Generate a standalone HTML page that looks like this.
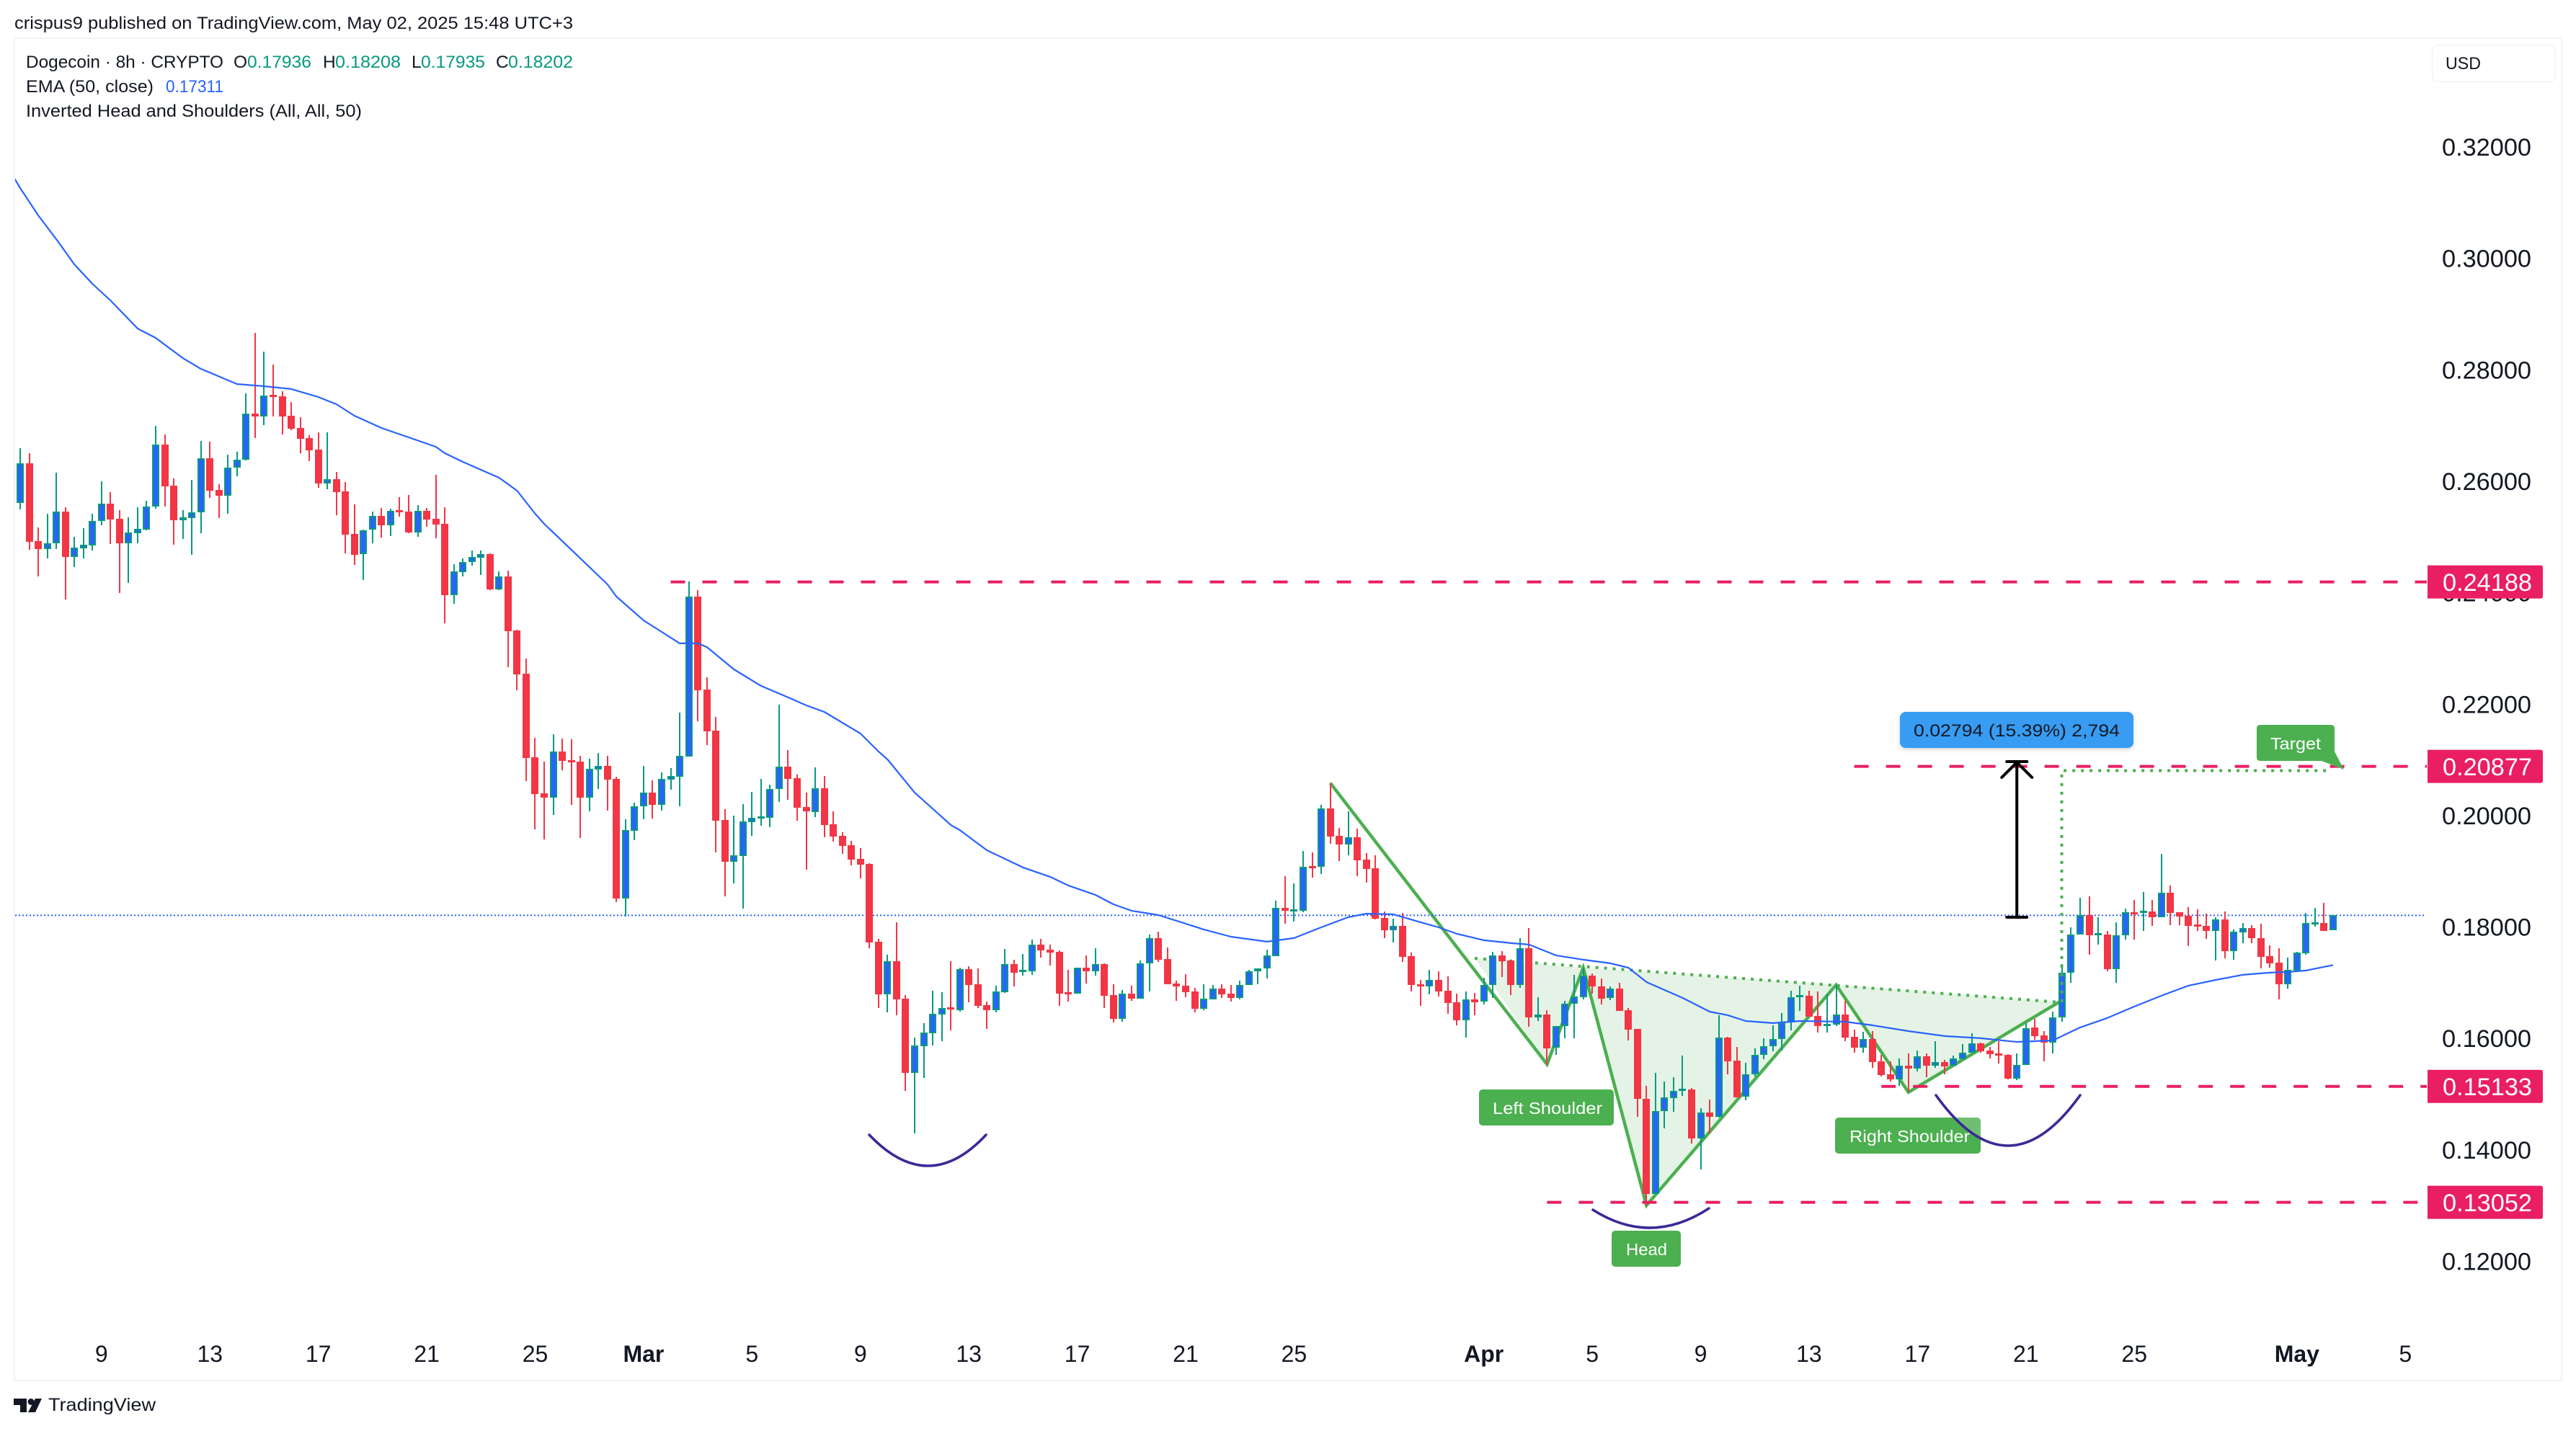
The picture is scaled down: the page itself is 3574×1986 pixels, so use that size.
<!DOCTYPE html>
<html lang="en">
<head>
<meta charset="utf-8">
<title>Dogecoin 8h chart</title>
<style>
html,body{margin:0;padding:0;background:#fff;width:3574px;height:1986px;overflow:hidden}
svg{display:block;font-family:"Liberation Sans",sans-serif}
text{fill:#131722}
</style>
</head>
<body>
<svg id="chart" xmlns="http://www.w3.org/2000/svg" width="3574" height="1986" viewBox="0 0 3574 1986">
<defs><clipPath id="paneClip"><rect x="21" y="54" width="3532" height="1861"/></clipPath></defs>
<rect x="0" y="0" width="3574" height="1986" fill="#ffffff"/>
<text x="20" y="40" font-size="24" textLength="775" lengthAdjust="spacingAndGlyphs">crispus9 published on TradingView.com, May 02, 2025 15:48 UTC+3</text>
<rect x="20" y="53" width="3534" height="1863" fill="none" stroke="#f2f3f5" stroke-width="2"/>

<g id="fills" clip-path="url(#paneClip)"></g>
<g id="lines" clip-path="url(#paneClip)"></g>
<g id="candles" shape-rendering="crispEdges"></g>
<g id="overlay" clip-path="url(#paneClip)"></g>

<g>
<path d="M1206 1575 Q1288 1661 1368 1575" fill="none" stroke="#3b2a96" stroke-width="3.6" stroke-linecap="round"/>
<path d="M2210 1679 Q2290 1730 2371 1677" fill="none" stroke="#3b2a96" stroke-width="3.6" stroke-linecap="round"/>
</g>

<g>
<rect x="2052" y="1512" width="187" height="50" rx="5" fill="#4caf50"/>
<text x="2071" y="1546" font-size="23" textLength="152" lengthAdjust="spacingAndGlyphs" style="fill:#fff">Left Shoulder</text>
<rect x="2546" y="1551" width="202" height="50" rx="5" fill="#4caf50"/>
<text x="2566" y="1585" font-size="23" textLength="167" lengthAdjust="spacingAndGlyphs" style="fill:#fff">Right Shoulder</text>
<rect x="2236" y="1708" width="96" height="50" rx="5" fill="#4caf50"/>
<text x="2256" y="1742" font-size="23" textLength="57" lengthAdjust="spacingAndGlyphs" style="fill:#fff">Head</text>
<path d="M3136 1006 H3234 Q3239 1006 3239 1011 V1043 L3252 1068 L3221 1056 H3136 Q3131 1056 3131 1051 V1011 Q3131 1006 3136 1006 Z" fill="#4caf50"/>
<text x="3150" y="1040" font-size="23" textLength="70" lengthAdjust="spacingAndGlyphs" style="fill:#fff">Target</text>
<path d="M2686 1520 Q2786 1660 2886 1520 Z" fill="rgba(255,255,255,0.2)"/>
<path d="M2686 1520 Q2786 1660 2886 1520" fill="none" stroke="#3b2a96" stroke-width="3.6" stroke-linecap="round"/>
</g>

<g>
<rect x="2636" y="988" width="324" height="50" rx="8" fill="#379cf2" style="filter:drop-shadow(0 2px 3px rgba(0,0,0,.18))"/>
<text x="2655" y="1022" font-size="24" textLength="286" lengthAdjust="spacingAndGlyphs">0.02794 (15.39%) 2,794</text>
</g>

<g id="axisY"></g>
<g id="axisX"></g>

<g>
<text x="36" y="94" font-size="24.5" textLength="274" lengthAdjust="spacingAndGlyphs">Dogecoin · 8h · CRYPTO</text>
<text x="324" y="94" font-size="24.5">O</text>
<text x="343" y="94" font-size="24.5" textLength="89" lengthAdjust="spacingAndGlyphs" style="fill:#089981">0.17936</text>
<text x="448" y="94" font-size="24.5">H</text>
<text x="465" y="94" font-size="24.5" textLength="91" lengthAdjust="spacingAndGlyphs" style="fill:#089981">0.18208</text>
<text x="571" y="94" font-size="24.5">L</text>
<text x="584" y="94" font-size="24.5" textLength="89" lengthAdjust="spacingAndGlyphs" style="fill:#089981">0.17935</text>
<text x="688" y="94" font-size="24.5">C</text>
<text x="705" y="94" font-size="24.5" textLength="90" lengthAdjust="spacingAndGlyphs" style="fill:#089981">0.18202</text>
<text x="36" y="128" font-size="24.5" textLength="177" lengthAdjust="spacingAndGlyphs">EMA (50, close)</text>
<text x="230" y="128" font-size="24.5" textLength="80" lengthAdjust="spacingAndGlyphs" style="fill:#2962ff">0.17311</text>
<text x="36" y="162" font-size="24.5" textLength="466" lengthAdjust="spacingAndGlyphs">Inverted Head and Shoulders (All, All, 50)</text>
</g>

<rect x="3374.5" y="62.5" width="171" height="51" rx="8" fill="#fff" stroke="#f2f3f5" stroke-width="1.5"/>
<text x="3393" y="96" font-size="24" textLength="49" lengthAdjust="spacingAndGlyphs">USD</text>

<g>
<path d="M19 1941 H37 V1960 H28 V1950 H19 Z" fill="#131722"/>
<circle cx="43" cy="1945.5" r="4.5" fill="#131722"/>
<path d="M49 1941 H58 L49 1960 H39 Z" fill="#131722"/>
<text x="67" y="1958" font-size="25" textLength="149" lengthAdjust="spacingAndGlyphs">TradingView</text>
</g>
</svg>

<script>
const opens=[0.25609,0.26312,0.24919,0.24782,0.24876,0.25445,0.24639,0.24794,0.24846,0.25277,
0.25588,0.25316,0.24885,0.25066,0.25131,0.25536,0.26648,0.25911,0.25299,0.25338,
0.25433,0.26403,0.25833,0.25739,0.26234,0.26377,0.27204,0.27161,0.27541,0.27515,
0.27166,0.26946,0.26765,0.26558,0.25958,0.26027,0.25808,0.25044,0.24682,0.25122,
0.25368,0.25208,0.25471,0.25445,0.25079,0.25458,0.25316,0.25226,0.23954,0.24368,
0.24540,0.24626,0.24687,0.24057,0.24281,0.23316,0.22541,0.21040,0.20394,0.20316,
0.21144,0.20989,0.20963,0.20316,0.20821,0.20885,0.20653,0.18506,0.19721,0.20161,
0.20407,0.20187,0.20640,0.20691,0.21053,0.23924,0.22256,0.21519,0.19915,0.19165,
0.19269,0.19877,0.19967,0.19954,0.20471,0.20872,0.20665,0.20148,0.20058,0.20484,
0.19838,0.19631,0.19463,0.19217,0.19127,0.17730,0.16786,0.17381,0.16708,0.15376,
0.15855,0.16087,0.16424,0.16553,0.16501,0.17238,0.16967,0.16592,0.16501,0.16825,
0.17329,0.17213,0.17200,0.17678,0.17588,0.17549,0.16825,0.16799,0.17264,0.17200,
0.17329,0.16773,0.16346,0.16799,0.16708,0.17342,0.17795,0.17420,0.16980,0.16941,
0.16838,0.16527,0.16695,0.16889,0.16799,0.16721,0.16954,0.17200,0.17251,0.17471,
0.18338,0.18299,0.18286,0.19088,0.19075,0.20122,0.19631,0.19476,0.19605,0.19204,
0.19049,0.18157,0.17937,0.18014,0.17471,0.16967,0.16928,0.17044,0.16850,0.16644,
0.16320,0.16695,0.16657,0.16954,0.17484,0.17394,0.16954,0.17614,0.16372,0.16424,
0.15829,0.16217,0.16618,0.16735,0.17122,0.16928,0.16721,0.16889,0.16501,0.16165,
0.14911,0.13204,0.14691,0.14924,0.15066,0.15079,0.14199,0.14665,0.14587,0.16010,
0.15596,0.14949,0.15350,0.15700,0.15855,0.15984,0.16282,0.16760,0.16760,0.16398,
0.16217,0.16243,0.16424,0.16023,0.15829,0.15984,0.15583,0.15350,0.15260,0.15506,
0.15454,0.15674,0.15506,0.15570,0.15506,0.15622,0.15738,0.15906,0.15777,0.15725,
0.15700,0.15273,0.15518,0.16191,0.16049,0.15919,0.16372,0.17174,0.17859,0.18208,
0.17859,0.17859,0.17238,0.17846,0.18260,0.18273,0.18273,0.18170,0.18609,0.18260,
0.18196,0.18040,0.18014,0.17924,0.18131,0.17562,0.17898,0.17976,0.17795,0.17471,
0.17355,0.16967,0.17213,0.17523,0.18053,0.18066,0.17936];
const highs=[0.26592,0.26497,0.25165,0.25407,0.26148,0.25527,0.24997,0.25148,0.25407,0.25989,
0.25795,0.25471,0.25342,0.25527,0.25639,0.26989,0.26829,0.26040,0.25471,0.26019,
0.26717,0.26700,0.25937,0.26467,0.26519,0.27571,0.28657,0.28317,0.28088,0.27605,
0.27416,0.27140,0.26816,0.26872,0.26868,0.26157,0.25976,0.25579,0.25122,0.25445,
0.25510,0.25502,0.25708,0.25743,0.25562,0.25510,0.26105,0.25527,0.24501,0.24609,
0.24751,0.24751,0.24700,0.24372,0.24389,0.23329,0.22812,0.21390,0.20963,0.21454,
0.21377,0.21364,0.21066,0.21015,0.21118,0.21066,0.20691,0.19928,0.20226,0.20885,
0.20627,0.20769,0.20846,0.21842,0.24196,0.24041,0.22476,0.21765,0.20109,0.19993,
0.20200,0.20420,0.20653,0.20549,0.21984,0.21170,0.20730,0.20407,0.20859,0.20704,
0.20071,0.19696,0.19540,0.19411,0.19139,0.17782,0.17497,0.18079,0.16773,0.16010,
0.16269,0.16850,0.16825,0.17381,0.17264,0.17290,0.17251,0.16657,0.16941,0.17601,
0.17407,0.17510,0.17769,0.17782,0.17678,0.17575,0.17226,0.17264,0.17484,0.17614,
0.17342,0.16967,0.16863,0.16941,0.17394,0.17859,0.17911,0.17626,0.17032,0.17148,
0.16902,0.16967,0.16954,0.16967,0.16954,0.17032,0.17226,0.17251,0.17588,0.18467,
0.18907,0.18777,0.19359,0.19333,0.20187,0.20575,0.19773,0.20071,0.19760,0.19321,
0.19282,0.18273,0.18144,0.18247,0.17536,0.17044,0.17226,0.17200,0.17109,0.16799,
0.16838,0.16812,0.17083,0.17549,0.17562,0.17407,0.17795,0.17976,0.16734,0.16501,
0.16217,0.16670,0.17135,0.17264,0.17161,0.17070,0.16928,0.16993,0.16540,0.16165,
0.15143,0.15376,0.15221,0.15299,0.15687,0.15105,0.14743,0.14898,0.16411,0.16023,
0.15842,0.15557,0.15816,0.15997,0.16230,0.16450,0.16850,0.16941,0.16850,0.16838,
0.16786,0.16954,0.16670,0.16152,0.16113,0.16126,0.15700,0.15583,0.15635,0.15725,
0.15777,0.15725,0.15945,0.15609,0.15687,0.15893,0.16087,0.15919,0.15842,0.15945,
0.15713,0.15725,0.16269,0.16346,0.16126,0.16475,0.17329,0.17989,0.18519,0.18545,
0.18170,0.17924,0.18079,0.18325,0.18480,0.18622,0.18480,0.19308,0.18739,0.18260,
0.18351,0.18312,0.18234,0.18170,0.18273,0.17950,0.18066,0.18027,0.18053,0.17665,
0.17614,0.17445,0.17549,0.18247,0.18338,0.18428,0.18208];
const lows=[0.25493,0.24769,0.24286,0.24609,0.24782,0.23876,0.24458,0.24609,0.24751,0.25204,
0.24868,0.23993,0.24174,0.24881,0.25118,0.25506,0.25545,0.24859,0.24963,0.24678,
0.25062,0.25695,0.25333,0.25415,0.26088,0.26372,0.26773,0.27002,0.27161,0.26838,
0.26916,0.26497,0.26355,0.25881,0.25855,0.25389,0.24704,0.24497,0.24225,0.24885,
0.24988,0.25014,0.25364,0.25066,0.25001,0.25182,0.24976,0.23449,0.23799,0.24290,
0.24480,0.24316,0.24044,0.24044,0.22657,0.22243,0.20614,0.19747,0.19566,0.20006,
0.20808,0.20187,0.19592,0.20071,0.20471,0.20083,0.18440,0.18182,0.19553,0.19928,
0.19941,0.20083,0.20459,0.20161,0.21053,0.21687,0.21260,0.19333,0.18545,0.18777,
0.18325,0.19631,0.19812,0.19786,0.20239,0.20277,0.19902,0.19023,0.19967,0.19605,
0.19527,0.19308,0.19101,0.18868,0.17614,0.16540,0.16463,0.16411,0.15053,0.14290,
0.15286,0.15868,0.15945,0.16139,0.16475,0.16644,0.16540,0.16165,0.16463,0.16812,
0.16928,0.17122,0.17135,0.17445,0.17303,0.16579,0.16657,0.16799,0.16980,0.17122,
0.16540,0.16282,0.16294,0.16670,0.16708,0.16838,0.17368,0.16967,0.16670,0.16734,
0.16463,0.16501,0.16695,0.16721,0.16657,0.16695,0.16954,0.16967,0.17070,0.17471,
0.18053,0.18092,0.18260,0.18881,0.18946,0.19488,0.19178,0.19282,0.18907,0.18790,
0.18131,0.17795,0.17717,0.17368,0.16838,0.16579,0.16786,0.16747,0.16437,0.16230,
0.16010,0.16411,0.16605,0.16721,0.17096,0.16773,0.16902,0.16204,0.16307,0.15531,
0.15700,0.15997,0.15997,0.16695,0.16799,0.16605,0.16682,0.16488,0.15958,0.14587,
0.12997,0.13204,0.14380,0.14678,0.14962,0.14109,0.13643,0.14290,0.14574,0.15350,
0.14937,0.14885,0.15312,0.15622,0.15764,0.15777,0.16139,0.16488,0.16385,0.16100,
0.16100,0.16217,0.15945,0.15738,0.15738,0.15467,0.15312,0.15221,0.15143,0.15027,
0.15402,0.15299,0.15467,0.15350,0.15506,0.15622,0.15738,0.15738,0.15635,0.15544,
0.15260,0.15247,0.15518,0.15971,0.15583,0.15725,0.16294,0.16993,0.17859,0.17497,
0.17678,0.17200,0.16993,0.17769,0.17769,0.17924,0.18014,0.18170,0.18027,0.18027,
0.17652,0.17924,0.17782,0.17394,0.17432,0.17407,0.17704,0.17704,0.17251,0.17264,
0.16695,0.16889,0.17213,0.17497,0.18001,0.17924,0.17935];
const closes=[0.26312,0.24911,0.24782,0.24876,0.25445,0.24639,0.24799,0.24855,0.25277,0.25588,
0.25312,0.24885,0.25070,0.25135,0.25536,0.26648,0.25907,0.25299,0.25342,0.25433,
0.26403,0.25829,0.25739,0.26234,0.26377,0.27204,0.27161,0.27528,0.27523,0.27161,
0.26937,0.26760,0.26553,0.25958,0.26027,0.25803,0.25040,0.24678,0.25118,0.25368,
0.25208,0.25458,0.25454,0.25079,0.25458,0.25312,0.25221,0.23954,0.24372,0.24540,
0.24631,0.24682,0.24057,0.24281,0.23307,0.22528,0.21028,0.20381,0.20316,0.21144,
0.20976,0.20950,0.20316,0.20834,0.20885,0.20640,0.18506,0.19734,0.20161,0.20407,
0.20187,0.20653,0.20704,0.21066,0.23924,0.22243,0.21506,0.19902,0.19165,0.19282,
0.19890,0.19954,0.19980,0.20471,0.20872,0.20653,0.20135,0.20071,0.20484,0.19825,
0.19618,0.19450,0.19204,0.19114,0.17717,0.16786,0.17381,0.16695,0.15376,0.15868,
0.16100,0.16437,0.16540,0.16527,0.17238,0.16954,0.16579,0.16501,0.16838,0.17329,
0.17174,0.17226,0.17678,0.17575,0.17536,0.16799,0.16799,0.17264,0.17200,0.17329,
0.16760,0.16346,0.16799,0.16708,0.17342,0.17795,0.17407,0.16967,0.16928,0.16825,
0.16527,0.16708,0.16889,0.16786,0.16721,0.16954,0.17200,0.17251,0.17484,0.18338,
0.18286,0.18312,0.19075,0.19062,0.20122,0.19618,0.19476,0.19605,0.19191,0.19036,
0.18144,0.17937,0.18014,0.17458,0.16954,0.16928,0.17044,0.16838,0.16631,0.16320,
0.16695,0.16644,0.16954,0.17484,0.17381,0.16954,0.17614,0.16372,0.16424,0.15816,
0.16217,0.16618,0.16747,0.17122,0.16928,0.16708,0.16889,0.16488,0.16152,0.14911,
0.13204,0.14691,0.14937,0.15053,0.15092,0.14199,0.14665,0.14587,0.16010,0.15583,
0.14937,0.15350,0.15700,0.15855,0.15984,0.16282,0.16735,0.16773,0.16385,0.16217,
0.16256,0.16424,0.16010,0.15829,0.15984,0.15570,0.15337,0.15260,0.15506,0.15454,
0.15674,0.15506,0.15570,0.15493,0.15635,0.15738,0.15906,0.15764,0.15713,0.15713,
0.15273,0.15518,0.16178,0.16036,0.15919,0.16372,0.17174,0.17859,0.18208,0.17846,
0.17885,0.17238,0.17846,0.18260,0.18247,0.18286,0.18170,0.18609,0.18247,0.18183,
0.18014,0.18014,0.17924,0.18131,0.17562,0.17911,0.17976,0.17795,0.17458,0.17342,
0.16967,0.17226,0.17536,0.18066,0.18079,0.17924,0.18202];

const emaBars=[-1,0,2,4,6,8,10,13,15,18,20,24,27,30,33,35,37,40,43,46,47,49,53,55,57,58,62,65,66,69,73,75,76,79,82,85,87,89,93,95,96,99,103,104,107,111,114,116,119,121,123,126,131,134,138,141,144,147,149,152,155,157,159,162,165,167,170,173,176,178,180,184,187,189,191,194,197,202,205,209,213,217,221,225,228,231,234,237,240,243,246,249,251,253,256];
const emaValues=[0.31528,0.31257,0.30765,0.30339,0.29886,0.29537,0.29239,0.28735,0.28567,0.28205,0.28011,0.27739,0.27700,0.27649,0.27506,0.27377,0.27170,0.26950,0.26782,0.26614,0.26498,0.26342,0.26058,0.25825,0.25411,0.25230,0.24610,0.24144,0.23924,0.23497,0.23084,0.23084,0.23019,0.22618,0.22321,0.22114,0.21972,0.21855,0.21467,0.21144,0.21001,0.20407,0.19825,0.19734,0.19372,0.19062,0.18894,0.18739,0.18571,0.18402,0.18286,0.18208,0.17950,0.17820,0.17730,0.17795,0.17988,0.18170,0.18234,0.18221,0.18079,0.17988,0.17872,0.17756,0.17704,0.17678,0.17484,0.17407,0.17342,0.17264,0.17006,0.16721,0.16475,0.16411,0.16307,0.16269,0.16307,0.16294,0.16230,0.16126,0.16036,0.15997,0.15932,0.15958,0.16191,0.16360,0.16566,0.16760,0.16941,0.17044,0.17135,0.17174,0.17187,0.17213,0.17311];

const priceTicks=['0.32000','0.30000','0.28000','0.26000','0.24000','0.22000','0.20000','0.18000','0.16000','0.14000','0.12000'];
const timeTickLabels=['9','13','17','21','25','Mar','5','9','13','17','21','25','Apr','5','9','13','17','21','25','May','5'];
const timeTickBars=[9,21,33,45,57,69,81,93,105,117,129,141,162,174,186,198,210,222,234,252,264];
const boldTimeTicks=['Mar','Apr','May'];

const levelPrices=[0.24188,0.20877,0.15133,0.13052];
const levelStartBars=[72,203,206,169];

const patternBars=[145,169,173,180,201,209,225.65];
const patternPrices=[0.20580,0.15531,0.17264,0.12997,0.16954,0.15027,0.16644];
const necklineBars=[161,225.65];
const necklinePrices=[0.17432,0.16644];
const targetBars=[226,258];
const targetPrices=[0.16644,0.20800];
const measureBar=221;
const measurePrices=[0.18169,0.20962];

const BAR_ORIGIN=28, BAR_STEP=12.535, Y_BASE=1750, Y_SCALE=7732.5, PRICE_BASE=0.12;
function xScale(bar){return BAR_ORIGIN+BAR_STEP*bar;}
function yScale(price){return Y_BASE-(price-PRICE_BASE)*Y_SCALE;}
const NS='http://www.w3.org/2000/svg';
function make(tag,parentId,attrs){
  const el=document.createElementNS(NS,tag);
  for(const k in attrs){el.setAttribute(k,attrs[k]);}
  document.getElementById(parentId).appendChild(el);
  return el;
}
function pts(bars,prices){return bars.map((b,i)=>xScale(b).toFixed(1)+','+yScale(prices[i]).toFixed(1));}

/* pattern fill */
const P=pts(patternBars,patternPrices);
const N=pts(necklineBars,necklinePrices);
const triangles=[[N[0],P[1],P[2]],[P[2],P[3],P[4]],[P[4],P[5],P[6]]];
triangles.forEach(function(t){
  const el=make('polygon','fills',{points:t.join(' '),fill:'rgba(76,175,80,0.15)'});
  
  
});

/* pattern lines */
{
  const el=make('polyline','lines',{points:P.join(' '),fill:'none',stroke:'#4caf50','stroke-width':4.5,'stroke-linejoin':'miter'});
  
  
  const neck=make('polyline','lines',{points:N.join(' '),fill:'none',stroke:'#4caf50','stroke-width':4,'stroke-dasharray':'4 8'});
  
  
}

/* current price dotted line */
{
  const y=yScale(closes[closes.length-1]);
  const el=make('line','lines',{x1:21,x2:3366,y1:y,y2:y,stroke:'#2962ff','stroke-width':2,'stroke-dasharray':'2 3'});
  
  
}

/* candles */
opens.forEach(function(open,i){
  const close=closes[i];
  const up=close>=open;
  const cx=Math.round(xScale(i));
  const colour=up?'#089981':'#f23645';
  const wy1=Math.round(yScale(highs[i]));
  const wy2=Math.round(yScale(lows[i]));
  const wick=make('rect','candles',{x:cx-1,y:wy1,width:2,height:Math.max(1,wy2-wy1),fill:colour});
  
  
  const by1=Math.round(yScale(Math.max(open,close)));
  const by2=Math.round(yScale(Math.min(open,close)));
  const h=Math.max(3,by2-by1);
  const body=make('rect','candles',{x:cx-5,y:by1,width:10,height:h,fill:colour});
  
  
  if(up&&h>4){
    const inner=make('rect','candles',{x:cx-3,y:by1+2,width:6,height:h-4,fill:'#2962ff'});
    
    
  }
});

/* EMA */
{
  const el=make('polyline','overlay',{points:pts(emaBars,emaValues).join(' '),fill:'none',stroke:'#2962ff','stroke-width':2.2,'stroke-linejoin':'round'});
  
  
}

/* horizontal levels */
levelPrices.forEach(function(level,i){
  const y=yScale(level);
  const el=make('line','overlay',{x1:xScale(levelStartBars[i]),x2:3367,y1:y,y2:y,stroke:'#e91e63','stroke-width':4,'stroke-dasharray':'20 24'});
  
  
});

/* target dotted path */
{
  const x1=xScale(targetBars[0])-0.4, y1=yScale(targetPrices[0]), y2=yScale(targetPrices[1]), x2=xScale(targetBars[1])-29;
  const el=make('polyline','overlay',{points:x1+','+y1+' '+x1+','+y2+' '+x2+','+y2,fill:'none',stroke:'#4caf50','stroke-width':4,'stroke-dasharray':'4 8'});
  
  
}

/* measure arrow */
{
  const x=xScale(measureBar), y1=yScale(measurePrices[0]), y2=yScale(measurePrices[1]);
  const d='M'+x+' '+y1+' V'+y2+' M'+(x-14)+' '+y1+' H'+(x+14)+' M'+(x-14)+' '+y2+' H'+(x+14)+' M'+(x-21)+' '+(y2+22)+' L'+x+' '+(y2+1)+' L'+(x+21)+' '+(y2+22);
  const el=make('path','overlay',{d:d,fill:'none',stroke:'#000','stroke-width':4,'stroke-linecap':'round'});
  
  
}

/* price axis */
priceTicks.forEach(function(label){
  const t=make('text','axisY',{x:3388,y:yScale(parseFloat(label))+12.5,'font-size':34,textLength:124,lengthAdjust:'spacingAndGlyphs'});
  t.textContent=label;
  
  
});
levelPrices.forEach(function(level){
  const y=yScale(level);
  const box=make('path','axisY',{d:'M3368 '+(y-23)+' H3525 Q3528 '+(y-23)+' 3528 '+(y-20)+' V'+(y+20)+' Q3528 '+(y+23)+' 3525 '+(y+23)+' H3368 Z',fill:'#e91e63'});
  
  
  const t=make('text','axisY',{x:3389,y:y+12.5,'font-size':34,textLength:124,lengthAdjust:'spacingAndGlyphs',style:'fill:#fff'});
  t.textContent=level.toFixed(5);
  
  
});

/* time axis */
timeTickLabels.forEach(function(label,i){
  const bold=boldTimeTicks.indexOf(label)>=0;
  const t=make('text','axisX',{x:xScale(timeTickBars[i]),y:1890,'font-size':32,'text-anchor':'middle','font-weight':bold?'700':'400'});
  t.textContent=label;
  
  
});
</script>
</body>
</html>
